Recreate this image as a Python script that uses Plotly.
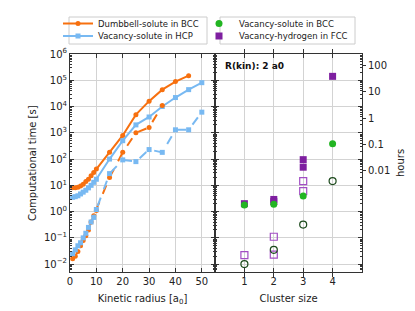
import plotly.graph_objects as go
import numpy as np

# ---------------- data ----------------
radius_lo = [1, 2, 3, 4, 5, 6, 7, 8, 9, 10]
radius_hi_bcc = [15, 20, 25, 30, 35, 40, 45]
radius_hi_bcc_dash = [15, 20, 25, 30, 35]
radius_hi_hcp = [15, 20, 25, 30, 35, 40, 45, 50]

dumbbell_bcc_solid = [8, 8, 8.5, 9.5, 11, 14, 17, 23, 31, 42,
                      180, 790, 4900, 16000, 44000, 89000, 150000]
dumbbell_bcc_dash = [0.016, 0.02, 0.03, 0.05, 0.08, 0.12, 0.2, 0.4, 0.7, 1.1,
                     20, 180, 1000, 1600, 11000]
vacancy_hcp_solid = [3.5, 3.7, 4.0, 4.7, 5.5, 6.5, 8, 10, 13, 17,
                     100, 500, 2000, 4000, 10000, 22000, 44000, 81000]
vacancy_hcp_dash = [0.025, 0.035, 0.05, 0.065, 0.1, 0.15, 0.25, 0.4, 0.6, 1.2,
                    28, 93, 80, 230, 180, 1300, 1300, 6100]

# right panel (cluster size)
vs_bcc_x = [1, 2, 3, 4]
vs_bcc_filled = [1.8, 1.9, 3.9, 380]
vs_bcc_open = [0.01, 0.035, 0.32, 14.5]
vh_fcc_x = [1, 2, 2, 3, 3, 4]
vh_fcc_filled = [2.0, 2.9, 2.4, 95, 49, 141000]
vh_fcc_open_x = [1, 2, 2, 3, 3]
vh_fcc_open = [0.022, 0.11, 0.023, 14.5, 6]

seconds_exponents = [-2, -1, 0, 1, 2, 3, 4, 5, 6]
hours_ticks = [0.01, 0.1, 1, 10, 100]
hours_labels = ["0.01", "0.1", "1", "10", "100"]

# ---------------- styling ----------------
ORANGE = "#f7700f"
BLUE = "#78b9f2"
GREEN = "#22b522"
PURPLE = "#7e1fa0"
PURPLE_OPEN = "#a24ec4"
GREEN_OPEN = "#1c4a1c"
FONT = "DejaVu Sans"

W, H = 415, 311
ML, MR, MT, MB = 62, 61, 46, 47
PW, PH = W - ML - MR, H - MT - MB


def px_x(px):
    return (px - ML) / PW


def px_y(py):
    return (H - MB - py) / PH


fig = go.Figure()

x_bcc = radius_lo + radius_hi_bcc
x_bcc_d = radius_lo + radius_hi_bcc_dash
x_hcp = radius_lo + radius_hi_hcp

fig.add_trace(go.Scatter(x=x_bcc, y=dumbbell_bcc_solid, mode="lines+markers",
                         name="Dumbbell-solute in BCC",
                         line=dict(color=ORANGE, width=2),
                         marker=dict(symbol="circle", size=5, color=ORANGE),
                         xaxis="x", yaxis="y", legend="legend"))
fig.add_trace(go.Scatter(x=x_hcp, y=vacancy_hcp_solid, mode="lines+markers",
                         name="Vacancy-solute in HCP",
                         line=dict(color=BLUE, width=2),
                         marker=dict(symbol="square", size=5, color=BLUE),
                         xaxis="x", yaxis="y", legend="legend2"))
fig.add_trace(go.Scatter(x=x_bcc_d, y=dumbbell_bcc_dash, mode="lines+markers",
                         showlegend=False,
                         line=dict(color=ORANGE, width=2, dash="dash"),
                         marker=dict(symbol="circle", size=5, color=ORANGE),
                         xaxis="x", yaxis="y"))
fig.add_trace(go.Scatter(x=x_hcp, y=vacancy_hcp_dash, mode="lines+markers",
                         showlegend=False,
                         line=dict(color=BLUE, width=2, dash="dash"),
                         marker=dict(symbol="square", size=5, color=BLUE),
                         xaxis="x", yaxis="y"))

# right panel
fig.add_trace(go.Scatter(x=vh_fcc_open_x, y=vh_fcc_open, mode="markers", showlegend=False,
                         marker=dict(symbol="square-open", size=7, color=PURPLE_OPEN,
                                     line=dict(width=1.2)),
                         xaxis="x2", yaxis="y2"))
fig.add_trace(go.Scatter(x=vs_bcc_x, y=vs_bcc_open, mode="markers", showlegend=False,
                         marker=dict(symbol="circle-open", size=7, color=GREEN_OPEN,
                                     line=dict(width=1.2)),
                         xaxis="x2", yaxis="y2"))
fig.add_trace(go.Scatter(x=vh_fcc_x, y=vh_fcc_filled, mode="markers",
                         name="Vacancy-hydrogen in FCC",
                         marker=dict(symbol="square", size=7, color=PURPLE),
                         xaxis="x2", yaxis="y2", legend="legend4"))
fig.add_trace(go.Scatter(x=vs_bcc_x, y=vs_bcc_filled, mode="markers",
                         name="Vacancy-solute in BCC",
                         marker=dict(symbol="circle", size=7, color=GREEN),
                         xaxis="x2", yaxis="y2", legend="legend3"))
# invisible trace to create the hours axis
fig.add_trace(go.Scatter(x=[None], y=[None], showlegend=False, xaxis="x2", yaxis="y3",
                         hoverinfo="skip"))

split = px_x(207)
ymin, ymax = -2.3, 6.0
h_off = np.log10(3600)

major_vals = [10.0 ** e for e in seconds_exponents]
major_text = ["10<sup>%s</sup>" % (str(e).replace("-", "\u2212")) for e in seconds_exponents]
minor_vals = [m * 10.0 ** e for e in range(-3, 6) for m in range(2, 10)]

grid_c = "#d3d3d3"
line_c = "#333333"
tickfont = dict(family=FONT, size=10, color="#222")
common_axis = dict(showline=True, linecolor=line_c, linewidth=1, mirror="allticks",
                   ticks="inside", ticklen=4, tickcolor=line_c, automargin=False,
                   gridcolor=grid_c, gridwidth=1, zeroline=False, tickfont=tickfont)
minor_ticks = dict(tickmode="array", tickvals=minor_vals, ticks="inside", ticklen=2,
                   tickcolor=line_c, showgrid=False)


def leg(xpx, ypx):
    return dict(x=xpx / W, y=1 - ypx / H, xref="container", yref="container",
                xanchor="left", yanchor="middle", borderwidth=0,
                bgcolor="rgba(0,0,0,0)", font=dict(family=FONT, size=8.5, color="#222"),
                itemwidth=30)


fig.update_layout(
    width=W, height=H, margin=dict(l=ML, r=MR, t=MT, b=MB, autoexpand=False),
    paper_bgcolor="white", plot_bgcolor="white",
    font=dict(family=FONT, size=10, color="#222"),
    xaxis=dict(domain=[0, split], anchor="y", range=[0, 55], tickmode="array",
               tickvals=[0, 10, 20, 30, 40, 50],
               title=dict(text="Kinetic radius [a<sub>0</sub>]", font=dict(size=10), standoff=8),
               **common_axis),
    yaxis=dict(domain=[0, 1], anchor="x", type="log", range=[ymin, ymax],
               tickmode="array", tickvals=major_vals, ticktext=major_text,
               minor=minor_ticks, **common_axis),
    xaxis2=dict(domain=[split, 1], anchor="y2", range=[0, 5], tickmode="array",
                tickvals=[1, 2, 3, 4],
                title=dict(text="Cluster size", font=dict(size=10), standoff=8),
                **common_axis),
    yaxis2=dict(domain=[0, 1], anchor="x2", type="log", range=[ymin, ymax],
                tickmode="array", tickvals=major_vals, showticklabels=False,
                minor=minor_ticks, **common_axis),
    yaxis3=dict(overlaying="y2", anchor="x2", side="right", type="log",
                range=[ymin - h_off, ymax - h_off], tickmode="array",
                tickvals=hours_ticks, ticktext=hours_labels, automargin=False,
                ticks="outside", ticklen=3, tickcolor=line_c, showgrid=False,
                zeroline=False, showline=False, tickfont=tickfont),
    legend=leg(50, 15.5),
    legend2=leg(50, 28),
    legend3=leg(191, 15.5),
    legend4=leg(191, 28),
    shapes=[
        dict(type="rect", xref="paper", yref="paper",
             x0=px_x(61), x1=px_x(199), y0=px_y(9), y1=px_y(36),
             line=dict(color="#cccccc", width=1), fillcolor="white", layer="above"),
        dict(type="rect", xref="paper", yref="paper",
             x0=px_x(212), x1=px_x(347), y0=px_y(9), y1=px_y(36),
             line=dict(color="#cccccc", width=1), fillcolor="white", layer="above"),
    ],
    annotations=[
        dict(text="<b>R(kin): 2 a0</b>", x=px_x(215), y=px_y(58),
             xref="paper", yref="paper", xanchor="left", yanchor="middle",
             showarrow=False, font=dict(family=FONT, size=9, color="#111")),
        dict(text="Computational time [s]", x=px_x(24), y=px_y(155), textangle=-90,
             xref="paper", yref="paper", xanchor="center", yanchor="middle",
             showarrow=False, font=dict(family=FONT, size=10, color="#222")),
        dict(text="hours", x=px_x(392), y=px_y(155), textangle=-90,
             xref="paper", yref="paper", xanchor="center", yanchor="middle",
             showarrow=False, font=dict(family=FONT, size=10, color="#222")),
    ],
)

fig.write_html("out.html")
